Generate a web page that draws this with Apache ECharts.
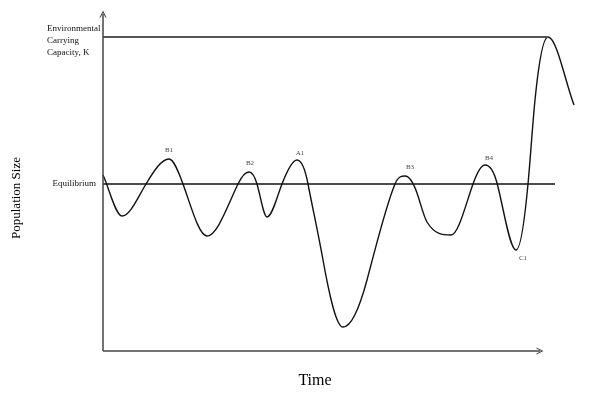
<!DOCTYPE html>
<html>
<head>
<meta charset="utf-8">
<style>
  html, body { margin: 0; padding: 0; background: #fff; }
  #main { width: 600px; height: 400px; }
</style>
<script src="https://cdn.jsdelivr.net/npm/echarts@6.0.0/dist/echarts.min.js"></script>
</head>
<body>
<div id="main"></div>
<script>
// 时间 / 种群数量 (从图上读出的估计值: 极值点和与平衡线的交点)
var timeValues = [0, 19, 43, 66, 80, 104, 135, 146, 154, 164, 179, 194, 205,
  220, 240, 264, 292, 302, 314, 324, 348, 370, 382, 394,
  413, 425, 432, 445, 471];
var populationValues = [176, 135, 167, 192, 167, 115, 167, 179, 167, 134, 167, 191, 167,
  91, 24, 71, 167, 175, 158, 129, 116, 167, 186, 168,
  101, 167, 251, 314, 246];

var equilibriumLevel = 167;
var capacityLevel = 314;
var equilibriumEnd = 452;
var capacityEnd = 445;
var timeAxisEnd = 437;
var popAxisEnd = 337;

// 曲线上的标注
var pointNames = ['B1', 'B2', 'A1', 'B3', 'B4', 'C1'];
var pointTimes = [66, 147, 197, 307, 386, 420];
var pointPops = [201, 188, 198, 184, 193, 93];

var serif = '"Liberation Serif", "DejaVu Serif", serif';
var arrowPath = 'path://M0,10 L5,0 L10,10 L8.4,10 L5,3.2 L1.6,10 Z';
var tension = 1.35;

var chart = echarts.init(document.getElementById('main'));

var curve = timeValues.map(function (t, i) { return [t, populationValues[i]]; });
var labels = pointNames.map(function (n, i) {
  return { name: n, value: [pointTimes[i], pointPops[i]] };
});

// 平滑曲线: 用坐标轴换算后的点画三次 Hermite 曲线, 极值点切线为水平
function renderCurve(params, api) {
  if (params.dataIndex !== 0) return null;
  var pts = curve.map(function (d) { return api.coord(d); });
  var n = pts.length;
  var m = [];
  for (var i = 0; i < n; i++) {
    if (i === 0) {
      m[i] = (pts[1][1] - pts[0][1]) / (pts[1][0] - pts[0][0]);
    } else if (i === n - 1) {
      m[i] = (pts[i][1] - pts[i - 1][1]) / (pts[i][0] - pts[i - 1][0]);
    } else {
      var s0 = (pts[i][1] - pts[i - 1][1]) / (pts[i][0] - pts[i - 1][0]);
      var s1 = (pts[i + 1][1] - pts[i][1]) / (pts[i + 1][0] - pts[i][0]);
      if (s0 * s1 <= 0) {
        m[i] = 0;
      } else {
        var c = (pts[i + 1][1] - pts[i - 1][1]) / (pts[i + 1][0] - pts[i - 1][0]) * tension;
        var lim = 3 * Math.min(Math.abs(s0), Math.abs(s1));
        m[i] = Math.abs(c) > lim ? (c > 0 ? lim : -lim) : c;
      }
    }
  }
  var d = 'M' + pts[0][0] + ' ' + pts[0][1];
  for (var j = 0; j < n - 1; j++) {
    var dx = (pts[j + 1][0] - pts[j][0]) / 3;
    d += ' C' + (pts[j][0] + dx) + ' ' + (pts[j][1] + m[j] * dx) + ' ' +
      (pts[j + 1][0] - dx) + ' ' + (pts[j + 1][1] - m[j + 1] * dx) + ' ' +
      pts[j + 1][0] + ' ' + pts[j + 1][1];
  }
  return {
    type: 'path',
    shape: { pathData: d },
    style: { fill: 'none', stroke: '#111', lineWidth: 1.4 }
  };
}

var option = {
  animation: false,
  backgroundColor: '#fff',
  grid: { left: 103, right: 26, top: 14, bottom: 49 },
  xAxis: { type: 'value', min: 0, max: 471, show: false },
  yAxis: { type: 'value', min: 0, max: 337, show: false },
  graphic: [
    {
      type: 'text', left: 47, top: 23,
      style: { text: 'Environmental\nCarrying\nCapacity, K', font: '9px ' + serif, fill: '#111', lineHeight: 12 }
    },
    {
      type: 'text', x: 96, y: 184,
      style: { text: 'Equilibrium', font: '9px ' + serif, fill: '#111', align: 'right', verticalAlign: 'middle' }
    },
    {
      type: 'text', x: 17, y: 198, rotation: Math.PI / 2,
      style: { text: 'Population Size', font: '13px ' + serif, fill: '#000', align: 'center', verticalAlign: 'middle' }
    },
    {
      type: 'text', x: 315, y: 381,
      style: { text: 'Time', font: '16px ' + serif, fill: '#000', align: 'center', verticalAlign: 'middle' }
    }
  ],
  series: [
    {
      type: 'line',
      data: [[0, capacityLevel], [capacityEnd, capacityLevel]],
      showSymbol: false,
      silent: true,
      lineStyle: { color: '#555', width: 2 }
    },
    {
      type: 'line',
      data: [[0, equilibriumLevel], [equilibriumEnd, equilibriumLevel]],
      showSymbol: false,
      silent: true,
      lineStyle: { color: '#111', width: 1.4 },
      markLine: {
        silent: true,
        symbol: ['none', arrowPath],
        symbolSize: 7,
        label: { show: false },
        lineStyle: { color: '#444', width: 1.5, type: 'solid' },
        data: [
          [{ coord: [0, 0] }, { coord: [timeAxisEnd, 0] }],
          [{ coord: [0, 0] }, { coord: [0, popAxisEnd] }]
        ]
      }
    },
    {
      type: 'custom',
      data: curve,
      clip: false,
      silent: true,
      renderItem: renderCurve
    },
    {
      type: 'scatter',
      data: labels,
      symbolSize: 1,
      silent: true,
      itemStyle: { color: 'rgba(0,0,0,0)' },
      label: {
        show: true,
        position: 'inside',
        formatter: '{b}',
        fontFamily: serif,
        fontSize: 7,
        color: '#111'
      }
    }
  ]
};

chart.setOption(option);
</script>
</body>
</html>
